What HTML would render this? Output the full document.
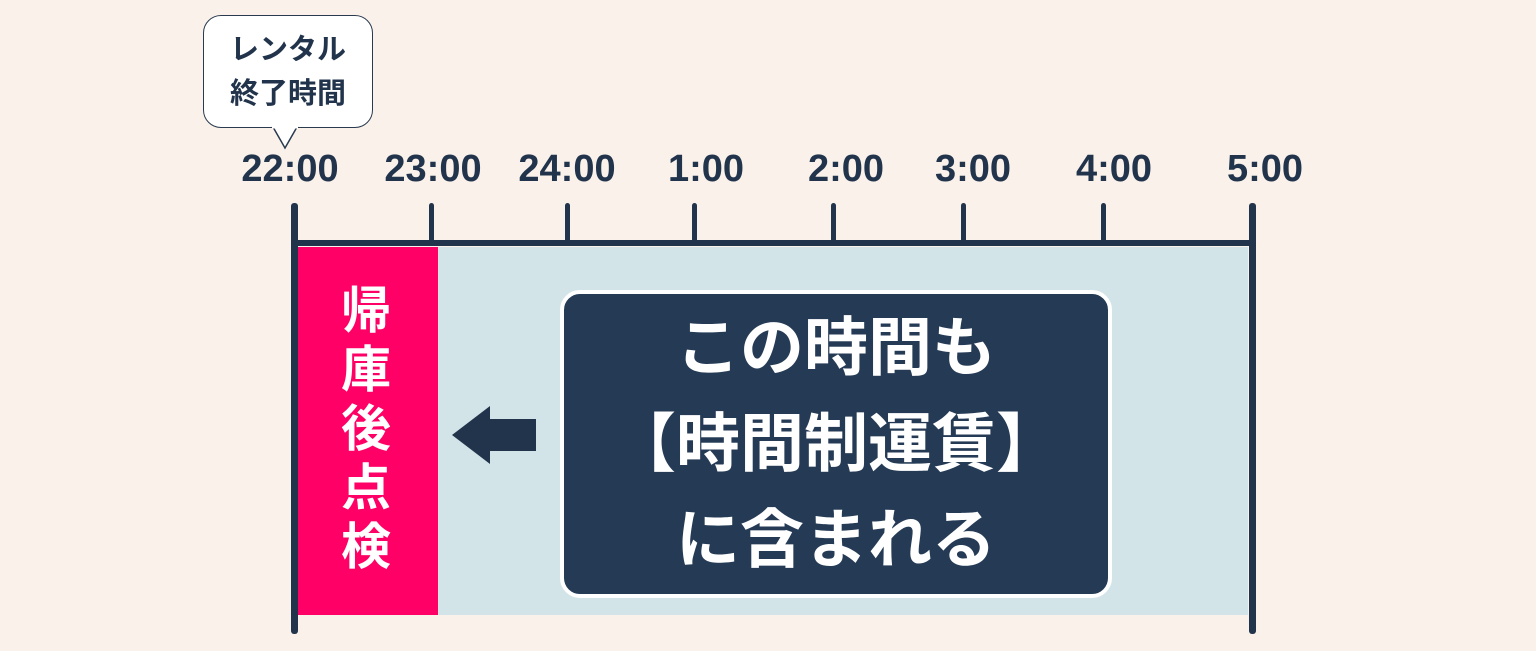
<!DOCTYPE html>
<html><head><meta charset="utf-8"><style>
body{margin:0;width:1536px;height:651px;background:#f9f1ea;position:relative;overflow:hidden;font-family:"Liberation Sans","Noto Sans CJK JP",sans-serif;font-weight:bold;color:#22344c}
.a{position:absolute}
.lbl{position:absolute;top:144px;font-size:38px;width:160px;text-align:center;line-height:50px}
.tick{position:absolute;top:203px;width:5px;height:42px;background:#22344c;border-radius:3px}
</style></head><body>
<div class="a" style="left:203px;top:15px;width:170px;background:#fff;border:1.5px solid #2a3a4f;border-radius:18px;text-align:center;font-size:29px;line-height:44px;padding-top:12px;box-sizing:border-box;height:113px">レンタル<br>終了時間</div>
<svg class="a" style="left:270px;top:126px" width="30" height="26"><polygon points="3,1 27,1 15,22" fill="#fff" stroke="#2a3a4f" stroke-width="1.5"/><line x1="2" y1="1" x2="28" y2="1" stroke="#fff" stroke-width="3"/></svg>
<div class="lbl" style="left:210px">22:00</div>
<div class="lbl" style="left:353px">23:00</div>
<div class="lbl" style="left:487px">24:00</div>
<div class="lbl" style="left:626px">1:00</div>
<div class="lbl" style="left:766px">2:00</div>
<div class="lbl" style="left:893px">3:00</div>
<div class="lbl" style="left:1034px">4:00</div>
<div class="lbl" style="left:1185px">5:00</div>
<div class="tick" style="left:429px"></div>
<div class="tick" style="left:565px"></div>
<div class="tick" style="left:692px"></div>
<div class="tick" style="left:831px"></div>
<div class="tick" style="left:961px"></div>
<div class="tick" style="left:1101px"></div>
<div class="a" style="left:438px;top:247px;width:810px;height:368px;background:#d3e4e8"></div>
<div class="a" style="left:298px;top:247px;width:140px;height:368px;background:#ff0066"></div>
<div class="a" style="left:292px;top:240px;width:964px;height:6px;background:#22344c"></div>
<div class="a" style="left:291px;top:203px;width:7px;height:431px;background:#22344c;border-radius:3px"></div>
<div class="a" style="left:1249px;top:203px;width:7px;height:431px;background:#22344c;border-radius:3px"></div>
<div class="a" style="left:338px;top:282px;width:56px;font-size:50px;line-height:59px;color:#fff;text-align:center">帰<br>庫<br>後<br>点<br>検</div>
<svg class="a" style="left:450px;top:403px" width="90" height="64"><polygon points="2,32 40,3 40,16 86,16 86,48 40,48 40,61" fill="#22344c"/></svg>
<div class="a" style="left:560px;top:290px;width:552px;height:308px;box-sizing:border-box;background:#243a55;border:4px solid #fff;border-radius:20px;color:#fff;font-size:64px;line-height:96px;text-align:center;padding-top:6px">この時間も<br>【時間制運賃】<br>に含まれる</div>
</body></html>
